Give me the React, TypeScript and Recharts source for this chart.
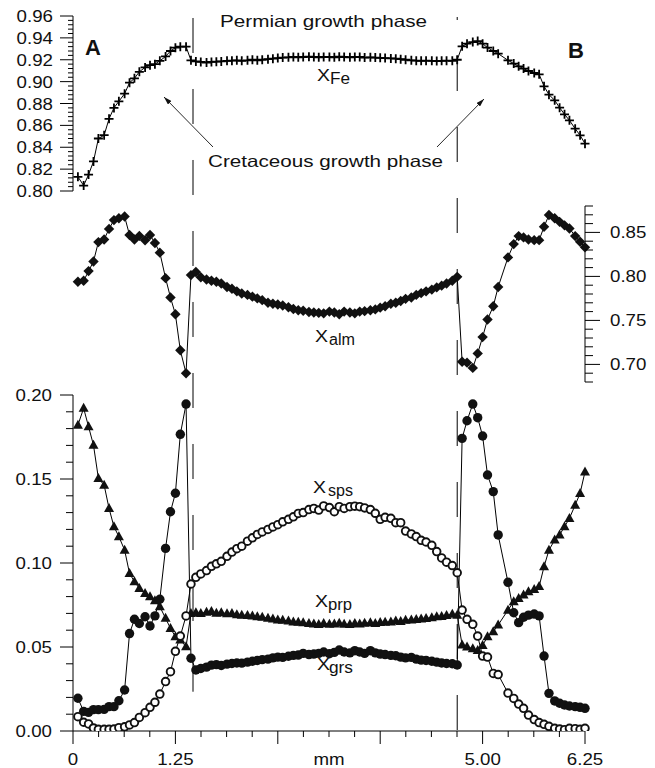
import React from 'react';
import { LineChart, Line, XAxis, YAxis, ReferenceLine } from 'recharts';

// Garnet traverse, distance in mm (no analysis at 5.25 mm)
const DISTANCE_MM = [
  0.06, 0.13, 0.19, 0.25, 0.31, 0.38, 0.44, 0.5, 0.56, 0.63, 0.69, 0.75, 0.81, 0.88, 0.94, 1.0, 1.06, 1.13, 1.19, 1.25, 1.31, 1.38,
  1.44, 1.5, 1.56, 1.63, 1.69, 1.75, 1.81, 1.88, 1.94, 2.0, 2.06, 2.13, 2.19, 2.25, 2.31, 2.38, 2.44, 2.5, 2.56, 2.63,
  2.69, 2.75, 2.81, 2.88, 2.94, 3.0, 3.06, 3.13, 3.19, 3.25, 3.31, 3.38, 3.44, 3.5, 3.56, 3.63, 3.69, 3.75, 3.81, 3.88,
  3.94, 4.0, 4.06, 4.13, 4.19, 4.25, 4.31, 4.38, 4.44, 4.5, 4.56, 4.63, 4.69,
  4.75, 4.81, 4.88, 4.94, 5.0, 5.06, 5.13, 5.19, 5.31, 5.38, 5.44, 5.5, 5.56, 5.63, 5.69, 5.75, 5.81, 5.88, 5.94, 6.0,
  6.06, 6.13, 6.19, 6.25,
];

const X_FE = [
  0.813, 0.805, 0.815, 0.827, 0.848, 0.851, 0.866, 0.876, 0.882, 0.889, 0.899, 0.903, 0.909, 0.913, 0.915, 0.916, 0.919, 0.923, 0.928, 0.931, 0.932, 0.932,
  0.9195, 0.9185, 0.918, 0.9175, 0.918, 0.9182, 0.9185, 0.919, 0.9192, 0.9195, 0.919, 0.9195, 0.92, 0.9195, 0.92, 0.9205,
  0.921, 0.9215, 0.922, 0.9222, 0.9225, 0.9222, 0.9225, 0.9228, 0.9225, 0.9222, 0.9225, 0.9225, 0.9222, 0.9228, 0.9225, 0.9222,
  0.9225, 0.9225, 0.922, 0.9222, 0.922, 0.9218, 0.9215, 0.9212, 0.921, 0.9205, 0.92, 0.9195, 0.9192, 0.919, 0.9192, 0.919,
  0.9188, 0.919, 0.9192, 0.919, 0.92,
  0.9323, 0.9347, 0.9362, 0.9371, 0.9347, 0.9311, 0.928, 0.9256, 0.9195, 0.9165, 0.914, 0.9119, 0.9097, 0.9079, 0.9067, 0.8957,
  0.8881, 0.8829, 0.8762, 0.8701, 0.8646, 0.857, 0.8509, 0.8433,
];

const X_ALM = [
  0.794, 0.795, 0.806, 0.817, 0.839, 0.842, 0.854, 0.864, 0.866, 0.868, 0.847, 0.842, 0.846, 0.841, 0.847, 0.838, 0.827, 0.798, 0.776, 0.757, 0.716, 0.69,
  0.8015, 0.805, 0.799, 0.7965, 0.795, 0.794, 0.792, 0.788, 0.786, 0.783, 0.7805, 0.779, 0.777, 0.775, 0.773, 0.77,
  0.769, 0.768, 0.767, 0.765, 0.763, 0.7615, 0.761, 0.7595, 0.759, 0.7585, 0.758, 0.76, 0.759, 0.757, 0.76, 0.759,
  0.758, 0.76, 0.7605, 0.7615, 0.7625, 0.7645, 0.766, 0.769, 0.77, 0.772, 0.7745, 0.776, 0.779, 0.781, 0.783, 0.785,
  0.7875, 0.7895, 0.792, 0.795, 0.7995,
  0.703, 0.702, 0.696, 0.7125, 0.731, 0.751, 0.766, 0.788, 0.8216, 0.8367, 0.8458, 0.8443, 0.842, 0.8412, 0.8412, 0.8564,
  0.8697, 0.866, 0.862, 0.858, 0.8545, 0.8458, 0.8393, 0.833,
];

const X_SPS = [
  0.0085, 0.0052, 0.0042, 0.0018, 0.001, 0.001, 0.001, 0.0012, 0.002, 0.0025, 0.0036, 0.005, 0.0081, 0.0109, 0.0141, 0.0171, 0.022, 0.0294, 0.0353, 0.0474, 0.0565, 0.0685,
  0.0875, 0.0915, 0.0935, 0.0955, 0.098, 0.0995, 0.101, 0.104, 0.1065, 0.1085, 0.11, 0.113, 0.115, 0.117, 0.1185, 0.12,
  0.1215, 0.1228, 0.1245, 0.126, 0.1275, 0.1295, 0.13, 0.1318, 0.1325, 0.1315, 0.134, 0.133, 0.1305, 0.1335, 0.1325, 0.1335,
  0.1338, 0.1335, 0.1328, 0.1318, 0.1296, 0.126, 0.1272, 0.1266, 0.124, 0.124, 0.119, 0.1173, 0.1157, 0.1135, 0.1125, 0.1105,
  0.1068, 0.103, 0.1005, 0.0985, 0.0942,
  0.072, 0.0665, 0.0635, 0.0565, 0.0446, 0.044, 0.0343, 0.0336, 0.0226, 0.0194, 0.016, 0.0135, 0.0095, 0.0068, 0.005, 0.004,
  0.0028, 0.0016, 0.0012, 0.0008, 0.0016, 0.0014, 0.001, 0.0016,
];

const X_PRP = [
  0.1821, 0.1921, 0.1811, 0.1702, 0.1504, 0.1464, 0.1325, 0.1216, 0.1157, 0.1077, 0.0938, 0.0889, 0.0849, 0.0819, 0.08, 0.0776, 0.074, 0.0671, 0.0611, 0.0562, 0.0542, 0.0502,
  0.07, 0.0705, 0.07, 0.0708, 0.0712, 0.0702, 0.0705, 0.0698, 0.07, 0.0692, 0.069, 0.0688, 0.0685, 0.068, 0.0678, 0.0672,
  0.0668, 0.0662, 0.066, 0.0655, 0.065, 0.0648, 0.0645, 0.064, 0.0638, 0.0635, 0.064, 0.0636, 0.0638, 0.0642, 0.0636, 0.0635,
  0.064, 0.0638, 0.0642, 0.0645, 0.064, 0.0646, 0.0648, 0.065, 0.0655, 0.0652, 0.066, 0.0662, 0.0665, 0.0668, 0.067, 0.0675,
  0.068, 0.0682, 0.0688, 0.0695, 0.069,
  0.0512, 0.05, 0.049, 0.048, 0.051, 0.0561, 0.0591, 0.0631, 0.072, 0.077, 0.079, 0.081, 0.083, 0.0843, 0.086, 0.0978,
  0.1077, 0.1137, 0.1167, 0.1216, 0.1266, 0.1345, 0.1415, 0.1543,
];

const X_GRS = [
  0.0195, 0.0117, 0.0111, 0.0127, 0.0127, 0.0129, 0.0145, 0.0145, 0.018, 0.0244, 0.058, 0.0665, 0.064, 0.068, 0.0625, 0.0685, 0.0784, 0.1087, 0.1305, 0.1415, 0.1766, 0.1946,
  0.0433, 0.0363, 0.0372, 0.038, 0.0392, 0.0395, 0.039, 0.0398, 0.0402, 0.0405, 0.0404, 0.041, 0.0415, 0.042, 0.0425, 0.0428,
  0.0435, 0.044, 0.0438, 0.0445, 0.045, 0.0452, 0.0462, 0.0455, 0.0458, 0.0462, 0.047, 0.046, 0.0468, 0.0482, 0.047, 0.0465,
  0.0478, 0.047, 0.0462, 0.0478, 0.0465, 0.0458, 0.0455, 0.045, 0.0448, 0.044, 0.0435, 0.0438, 0.0428, 0.0422, 0.042, 0.0415,
  0.041, 0.0405, 0.0402, 0.04, 0.0393,
  0.1742, 0.1847, 0.1946, 0.1865, 0.1756, 0.1524, 0.1425, 0.1167, 0.0885, 0.0704, 0.0645, 0.0677, 0.069, 0.0696, 0.0685, 0.0446,
  0.0224, 0.0179, 0.0165, 0.0155, 0.0149, 0.0145, 0.0141, 0.0135,
];

// boundaries between the Cretaceous rims and the Permian core
const PHASE_BOUNDARIES_MM = [1.465, 4.69];

const FE_LABELS = [0.8, 0.82, 0.84, 0.86, 0.88, 0.9, 0.92, 0.94, 0.96];
const ALM_LABELS = [0.7, 0.75, 0.8, 0.85];
const LOWER_LABELS = [0, 0.05, 0.1, 0.15, 0.2];
const MM_MAJOR = [0, 1.25, 2.5, 3.75, 5, 6.25];
const MM_LABEL_AT = [0, 1.25, 3.125, 5, 6.25];
const MM_LABEL_TEXT = ['0', '1.25', 'mm', '5.00', '6.25'];

const ROWS = DISTANCE_MM.map((d, i) => ({
  d,
  fe: X_FE[i],
  alm: X_ALM[i],
  sps: X_SPS[i],
  prp: X_PRP[i],
  grs: X_GRS[i],
}));

const W = 655;
const H = 768;
const FONT = "'Liberation Sans', Arial, Helvetica, sans-serif";
const X_DOMAIN: [number, number] = [0, 6.25];

const steps = (from: number, to: number, step: number) => {
  const out: number[] = [];
  const n = Math.round((to - from) / step);
  for (let i = 0; i <= n; i++) out.push(Math.round((from + i * step) * 1e5) / 1e5);
  return out;
};
const near = (a: number, b: number) => Math.abs(a - b) < 1e-6;

const FE_TICKS = steps(0.8, 0.96, 0.004);
const ALM_TICKS = steps(0.68, 0.88, 0.01);
const LOWER_TICKS = steps(0, 0.2, 0.01);
const MM_TICKS = steps(0, 6.25, 0.3125);

const labelStyle = { fontFamily: FONT, fontSize: 17, fill: '#111' };

const leftTick = (labels: number[], majorLen: number, minorLen: number, gap: number) => (props: any) => {
  const { x, y, payload } = props;
  const v = payload.value as number;
  const major = labels.some((l) => near(l, v));
  return (
    <g>
      <line x1={x - (major ? majorLen : minorLen)} x2={x} y1={y} y2={y} stroke="#000" strokeWidth={1} />
      {major && (
        <text transform={`translate(${x - gap} ${y + 6}) scale(1.1 1)`} textAnchor="end" style={labelStyle}>
          {v.toFixed(2)}
        </text>
      )}
    </g>
  );
};

const rightTick = (props: any) => {
  const { x, y, payload } = props;
  const v = payload.value as number;
  const major = ALM_LABELS.some((l) => near(l, v));
  return (
    <g>
      <line x1={x} x2={x + (major ? 15 : 8)} y1={y} y2={y} stroke="#000" strokeWidth={1} />
      {major && (
        <text transform={`translate(${x + 25} ${y + 6}) scale(1.1 1)`} style={labelStyle}>
          {v.toFixed(2)}
        </text>
      )}
    </g>
  );
};

const bottomTick = (props: any) => {
  const { x, y, payload } = props;
  const v = payload.value as number;
  const major = MM_MAJOR.some((m) => near(m, v));
  const li = MM_LABEL_AT.findIndex((m) => near(m, v));
  return (
    <g>
      <line x1={x} x2={x} y1={y} y2={y + (major ? 13 : 6)} stroke="#000" strokeWidth={1} />
      {li >= 0 && (
        <text transform={`translate(${x} ${y + 34}) scale(1.1 1)`} textAnchor="middle" style={labelStyle}>
          {MM_LABEL_TEXT[li]}
        </text>
      )}
    </g>
  );
};

// point markers
const plusDot = (p: any) => (
  <path
    key={`fe-${p.index}`}
    d={`M${p.cx - 4.5},${p.cy}h9M${p.cx},${p.cy - 4.5}v9`}
    stroke="#000"
    strokeWidth={1.8}
    fill="none"
  />
);
const diamondDot = (p: any) => (
  <path
    key={`alm-${p.index}`}
    d={`M${p.cx},${p.cy - 5.2}L${p.cx + 5.2},${p.cy}L${p.cx},${p.cy + 5.2}L${p.cx - 5.2},${p.cy}Z`}
    fill="#111"
  />
);
const triangleDot = (p: any) => (
  <path
    key={`prp-${p.index}`}
    d={`M${p.cx},${p.cy - 5.4}L${p.cx + 5},${p.cy + 3.6}L${p.cx - 5},${p.cy + 3.6}Z`}
    fill="#111"
  />
);
const discDot = (p: any) => <circle key={`grs-${p.index}`} cx={p.cx} cy={p.cy} r={4.7} fill="#111" />;
const ringDot = (p: any) => (
  <circle key={`sps-${p.index}`} cx={p.cx} cy={p.cy} r={3.8} fill="#fff" stroke="#111" strokeWidth={1.9} />
);

const layer: React.CSSProperties = { position: 'absolute', left: 0, top: 0 };

function SeriesLabel({ x, y, sub, subX, subW }: { x: number; y: number; sub: string; subX: number; subW: number }) {
  return (
    <g style={{ fontFamily: FONT, fontSize: 16, fill: '#111' }}>
      <text x={x} y={y} textLength={13} lengthAdjust="spacingAndGlyphs">
        X
      </text>
      <text x={subX} y={y + 3} textLength={subW} lengthAdjust="spacingAndGlyphs">
        {sub}
      </text>
    </g>
  );
}

export default function App() {
  return (
    <div style={{ position: 'absolute', left: 0, top: 0, width: W, height: H, background: '#fff' }}>
      {/* phase boundaries through all three panels; the hidden series only gives the frame its data */}
      <div style={layer}>
        <LineChart width={W} height={H} data={ROWS} margin={{ top: 17, right: 70, bottom: 37, left: 73 }}>
          <XAxis dataKey="d" type="number" domain={X_DOMAIN} hide />
          <YAxis type="number" domain={[0, 1]} allowDataOverflow hide />
          <Line
            type="linear"
            dataKey="sps"
            stroke="none"
            strokeOpacity={0}
            dot={false}
            activeDot={false}
            isAnimationActive={false}
          />
          <ReferenceLine
            segment={[
              { x: PHASE_BOUNDARIES_MM[0], y: 0.9986 },
              { x: PHASE_BOUNDARIES_MM[0], y: 0.055 },
            ]}
            ifOverflow="visible"
            stroke="#000"
            strokeWidth={1}
            strokeDasharray="35 36"
          />
          <ReferenceLine
            segment={[
              { x: PHASE_BOUNDARIES_MM[1], y: 1 },
              { x: PHASE_BOUNDARIES_MM[1], y: 0 },
            ]}
            ifOverflow="visible"
            stroke="#000"
            strokeWidth={1}
            strokeDasharray="35 36"
            strokeDashoffset={32}
          />
        </LineChart>
      </div>

      {/* X_Fe */}
      <div style={layer}>
        <LineChart width={W} height={H} data={ROWS} margin={{ top: 16, right: 70, bottom: 577, left: 0 }}>
          <XAxis dataKey="d" type="number" domain={X_DOMAIN} hide />
          <YAxis
            type="number"
            domain={[0.8, 0.96]}
            ticks={FE_TICKS}
            interval={0}
            width={73}
            tickSize={0}
            tickMargin={0}
            tickLine={false}
            axisLine={{ stroke: '#000' }}
            tick={leftTick(FE_LABELS, 13, 5, 20)}
            allowDataOverflow
          />
          <Line
            type="linear"
            dataKey="fe"
            stroke="#000"
            strokeWidth={1}
            dot={plusDot}
            activeDot={false}
            isAnimationActive={false}
          />
        </LineChart>
      </div>

      {/* X_alm */}
      <div style={layer}>
        <LineChart width={W} height={H} data={ROWS} margin={{ top: 206, right: 0, bottom: 386, left: 73 }}>
          <XAxis dataKey="d" type="number" domain={X_DOMAIN} hide />
          <YAxis
            orientation="right"
            type="number"
            domain={[0.68, 0.88]}
            ticks={ALM_TICKS}
            interval={0}
            width={70}
            tickSize={0}
            tickMargin={0}
            tickLine={false}
            axisLine={{ stroke: '#000' }}
            tick={rightTick}
            allowDataOverflow
          />
          <Line
            type="linear"
            dataKey="alm"
            stroke="#000"
            strokeWidth={1}
            dot={diamondDot}
            activeDot={false}
            isAnimationActive={false}
          />
        </LineChart>
      </div>

      {/* X_prp, X_grs, X_sps */}
      <div style={layer}>
        <LineChart width={W} height={H} data={ROWS} margin={{ top: 395, right: 70, bottom: 0, left: 0 }}>
          <XAxis
            dataKey="d"
            type="number"
            domain={X_DOMAIN}
            ticks={MM_TICKS}
            interval={0}
            height={37}
            tickSize={0}
            tickMargin={0}
            tickLine={false}
            axisLine={{ stroke: '#000' }}
            tick={bottomTick}
          />
          <YAxis
            type="number"
            domain={[0, 0.2]}
            ticks={LOWER_TICKS}
            interval={0}
            width={73}
            tickSize={0}
            tickMargin={0}
            tickLine={false}
            axisLine={{ stroke: '#000' }}
            tick={leftTick(LOWER_LABELS, 13, 7, 21)}
            allowDataOverflow
          />
          <Line type="linear" dataKey="prp" stroke="#000" strokeWidth={1} dot={triangleDot} activeDot={false} isAnimationActive={false} />
          <Line type="linear" dataKey="grs" stroke="#000" strokeWidth={1} dot={discDot} activeDot={false} isAnimationActive={false} />
          <Line type="linear" dataKey="sps" stroke="#000" strokeWidth={1} dot={ringDot} activeDot={false} isAnimationActive={false} />
        </LineChart>
      </div>

      {/* annotations */}
      <svg width={W} height={H} style={{ ...layer, pointerEvents: 'none' }}>
        <defs>
          <marker id="arrow" viewBox="0 0 10 6" refX="10" refY="3" markerWidth="9" markerHeight="5.4" orient="auto">
            <path d="M0,0L10,3L0,6Z" fill="#111" />
          </marker>
        </defs>
        <g style={{ fontFamily: FONT, fontSize: 16.5, fill: '#111' }}>
          <text x={220} y={27} textLength={207} lengthAdjust="spacingAndGlyphs">
            Permian growth phase
          </text>
          <text x={208} y={167} textLength={235} lengthAdjust="spacingAndGlyphs">
            Cretaceous growth phase
          </text>
        </g>
        <text x={85} y={55} style={{ fontFamily: FONT, fontSize: 22, fontWeight: 700, fill: '#111' }}>
          A
        </text>
        <text x={568} y={58} style={{ fontFamily: FONT, fontSize: 22, fontWeight: 700, fill: '#111' }}>
          B
        </text>
        <line x1={213} y1={147} x2={164} y2={97} stroke="#111" strokeWidth={0.9} markerEnd="url(#arrow)" />
        <line x1={437} y1={147} x2={484} y2={99} stroke="#111" strokeWidth={0.9} markerEnd="url(#arrow)" />
        <SeriesLabel x={317} y={81} sub="Fe" subX={330} subW={20} />
        <SeriesLabel x={315} y={342} sub="alm" subX={329} subW={26} />
        <SeriesLabel x={313} y={493} sub="sps" subX={328} subW={25} />
        <SeriesLabel x={315} y={607} sub="prp" subX={328} subW={24} />
        <SeriesLabel x={317} y={670} sub="grs" subX={329} subW={24} />
      </svg>
    </div>
  );
}
